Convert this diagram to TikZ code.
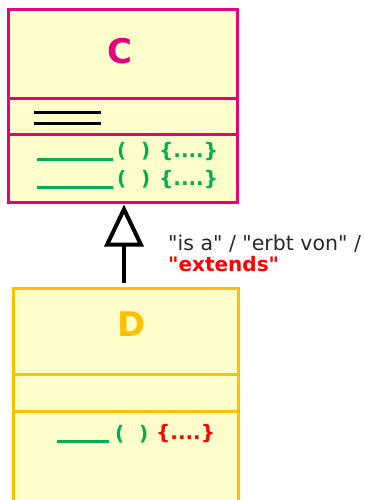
\documentclass[tikz,border=0pt]{standalone}
\usepackage{fontspec}
\setmainfont{DejaVu Sans}
\usetikzlibrary{arrows.meta}
\definecolor{cpink}{RGB}{230,0,126}
\definecolor{dorange}{RGB}{255,192,0}
\definecolor{boxfill}{RGB}{255,255,204}
\definecolor{mgreen}{RGB}{0,176,80}
\definecolor{mred}{RGB}{255,0,0}
\definecolor{labgray}{RGB}{40,40,40}
\newcommand{\qq}{\textquotedbl}
\tikzset{
  cbox/.style={draw=cpink, fill=boxfill, line width=3pt, minimum width=229pt, inner sep=0pt},
  dbox/.style={draw=dorange, fill=boxfill, line width=3pt, minimum width=225pt, inner sep=0pt},
  title/.style={font=\bfseries\fontsize{34}{34}\selectfont, inner sep=0pt},
  op/.style={font=\bfseries\fontsize{20}{20}\selectfont, inner sep=0pt, anchor=west},
  attrline/.style={line width=3pt, black},
  opline/.style={line width=3pt, mgreen},
  inh/.style={line width=4pt, -{Triangle[open, length=42pt, width=39pt, line join=miter]}},
  lab/.style={font=\fontsize{20.5}{20.5}\selectfont, inner sep=0pt, anchor=base west}
}
\begin{document}
\begin{tikzpicture}[x=1pt, y=-1pt]
\useasboundingbox (0,0) rectangle (364,500);
\clip (0,0) rectangle (364,500);
% class C
\node[cbox, minimum height=89pt] (Cname) at (122.5,54.5) {};
\node[cbox, minimum height=35pt] (Cattr) at (122.5,116.5) {};
\node[cbox, minimum height=68pt] (Cops) at (122.5,168) {};
\node[title, text=cpink] (Ct) at (120,51) {C};
\draw[attrline] (34,113) -- (101,113);
\draw[attrline] (34,123) -- (101,123);
\draw[opline] (37,159) -- (113,159);
\draw[opline] (37,187) -- (113,187);
\node[op, text=mgreen] (c1a) at (117,151.5) {(};
\node[op, text=mgreen] (c1b) at (141,151.5) {)};
\node[op, text=mgreen] (c1c) at (159,151.5) {\{....\}};
\node[op, text=mgreen] (c2a) at (117,179.5) {(};
\node[op, text=mgreen] (c2b) at (141,179.5) {)};
\node[op, text=mgreen] (c2c) at (159,179.5) {\{....\}};
% class D
\node[dbox, minimum height=86pt] (Dname) at (125.5,331) {};
\node[dbox, minimum height=37pt] (Dattr) at (125.5,392.5) {};
\node[dbox, minimum height=109pt] (Dops) at (125.5,465.5) {};
\node[title, text=dorange] (Dt) at (132,324.5) {D};
\draw[opline] (57,441) -- (109,441);
\node[op, text=mgreen] (d1a) at (115,434) {(};
\node[op, text=mgreen] (d1b) at (139,434) {)};
\node[op, text=mred] (d1c) at (156,434) {\{....\}};
% inheritance
\coordinate (ax) at (124,0);
\draw[inh, shorten >=1pt, shorten <=4pt] (Dname.north -| ax) -- (Cops.south -| ax);
\node[lab, text=labgray] (l1) at (168,250) {\qq is a\qq{} / \qq erbt von\qq{} /};
\node[lab, text=mred, font=\bfseries\fontsize{20}{20}\selectfont] (l2) at (168,271) {\qq extends\qq};
\end{tikzpicture}
\end{document}
